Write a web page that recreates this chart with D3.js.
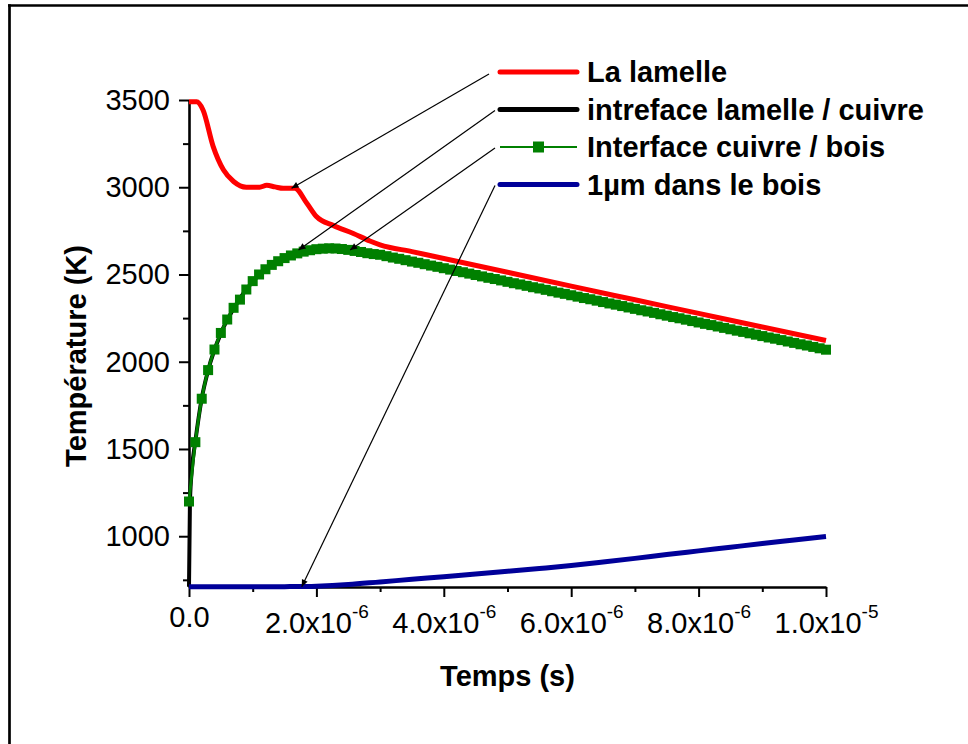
<!DOCTYPE html>
<html lang="fr">
<head>
<meta charset="utf-8">
<title>Température en fonction du temps</title>
<script src="https://cdn.jsdelivr.net/npm/d3@7"></script>
<style>
  body { margin: 0; background: #fff; }
  text { font-family: "Liberation Sans", Arial, sans-serif; }
</style>
</head>
<body>
<script>
// time in microseconds, temperature in K
var redT = [0, 0.12, 0.22, 0.38, 0.54, 0.70, 0.90, 1.11, 1.22, 1.35, 1.48, 1.66, 1.85, 2.0, 2.27, 2.58, 2.84, 3.0, 3.5, 4, 5, 6, 7, 8, 9, 10];
var redK = [3490, 3490, 3443, 3233, 3100, 3033, 3000, 3000, 3011, 3002, 2994, 2994, 2908, 2832, 2780, 2735, 2692, 2670, 2631, 2592, 2513, 2433, 2355, 2277, 2199, 2122];

var blackT = [0, 0.015, 0.05, 0.1, 0.2, 0.3, 0.5, 0.7, 1.0, 1.5, 2.0, 2.2, 2.5, 3, 4, 5, 6, 7, 8, 9, 10];
var blackK = [711, 1200, 1400, 1545, 1790, 1950, 2163, 2305, 2460, 2592, 2644, 2649, 2640, 2612, 2535, 2457, 2380, 2302, 2224, 2146, 2068];

// green curve is sampled every 0.1 us (one marker per sample)
var greenStep = 0.1;
var greenK = [1199, 1539, 1788, 1952, 2070, 2165, 2242, 2309, 2356, 2414,
              2462, 2500, 2530, 2555, 2576, 2594, 2609, 2621, 2631, 2639,
              2645, 2648, 2650, 2649, 2646, 2641, 2635, 2629, 2622, 2617,
              2613, 2605, 2597, 2590, 2582, 2574, 2567, 2559, 2551, 2544,
              2536, 2528, 2520, 2513, 2505, 2497, 2489, 2481, 2474, 2466,
              2458, 2450, 2443, 2435, 2427, 2420, 2412, 2404, 2396, 2389,
              2381, 2373, 2365, 2358, 2350, 2342, 2334, 2327, 2319, 2311,
              2303, 2295, 2288, 2280, 2272, 2264, 2256, 2249, 2241, 2233,
              2225, 2217, 2210, 2202, 2194, 2186, 2178, 2171, 2163, 2155,
              2147, 2139, 2132, 2124, 2116, 2108, 2100, 2093, 2085, 2077,
              2069];

var blueT = [0, 1, 1.5, 2, 2.5, 3, 3.5, 4, 4.5, 5, 5.5, 6, 6.5, 7, 7.5, 8, 8.5, 9, 9.5, 10];
var blueK = [710, 710, 711, 714, 723, 738, 753, 768, 783, 799, 815, 832, 852, 873, 895, 916, 937, 958, 978, 998];

var legendLabels = ["La lamelle", "intreface lamelle / cuivre", "Interface cuivre / bois", "1\u00b5m dans le bois"];
var seriesColors = ["#ff0000", "#000000", "#008000", "#000099"];

// arrow targets on the curves (us, K)
var arrowT = [1.61, 1.72, 2.53, 1.77];
var arrowK = [2994, 2641, 2641, 711];

var xTicks = [0, 2, 4, 6, 8, 10];
var xMinor = [1, 3, 5, 7, 9];
var xTickBase = ["0.0", "2.0x10", "4.0x10", "6.0x10", "8.0x10", "1.0x10"];
var xTickExp = ["", "-6", "-6", "-6", "-6", "-5"];
var yTicks = [1000, 1500, 2000, 2500, 3000, 3500];
var yMinor = [750, 1250, 1750, 2250, 2750, 3250];

var w = 968, h = 744;
var plotL = 189, plotR = 826, plotT = 100, plotB = 587;

var xScale = d3.scaleLinear().domain([0, 10]).range([plotL, plotR]);
var yScale = d3.scaleLinear().domain([709, 3500]).range([plotB, plotT]);

var svg = d3.select("body").append("svg")
  .attr("width", w)
  .attr("height", h);

svg.append("rect").attr("width", w).attr("height", h).attr("fill", "#fff");

// frame (only top and left edges are visible)
svg.append("line").attr("x1", 8).attr("x2", w).attr("y1", 5.5).attr("y2", 5.5)
  .attr("stroke", "#000").attr("stroke-width", 2.7);
svg.append("line").attr("x1", 9.5).attr("x2", 9.5).attr("y1", 4.2).attr("y2", h)
  .attr("stroke", "#000").attr("stroke-width", 2.7);

// axes
function styleAxis(g) {
  g.select(".domain").attr("stroke", "#000").attr("stroke-width", 2.6);
  g.selectAll(".tick line").attr("stroke", "#000").attr("stroke-width", 2);
  g.selectAll("text").attr("fill", "#000").attr("font-size", 29)
    .attr("font-family", "'Liberation Sans', Arial, sans-serif");
}

var gx = svg.append("g").attr("transform", "translate(0," + plotB + ")")
  .call(d3.axisBottom(xScale).tickValues(xTicks).tickSize(10).tickSizeOuter(0)
    .tickFormat(function(d, i) { return xTickBase[i]; }));
styleAxis(gx);
gx.selectAll(".tick text").each(function(d, i) {
  var t = d3.select(this);
  t.text(null).attr("dy", null).attr("y", xTickExp[i] ? 46 : 40);
  t.append("tspan").text(xTickBase[i]);
  if (xTickExp[i]) {
    t.append("tspan").attr("dy", -15).attr("font-size", 19).text(xTickExp[i]);
  }
});

var gxm = svg.append("g").attr("transform", "translate(0," + plotB + ")")
  .call(d3.axisBottom(xScale).tickValues(xMinor).tickSize(5).tickSizeOuter(0).tickFormat(""));
styleAxis(gxm);
gxm.select(".domain").remove();

var gy = svg.append("g").attr("transform", "translate(" + plotL + ",0)")
  .call(d3.axisLeft(yScale).tickValues(yTicks).tickSize(10).tickPadding(9).tickSizeOuter(0)
    .tickFormat(d3.format("d")));
styleAxis(gy);

var gym = svg.append("g").attr("transform", "translate(" + plotL + ",0)")
  .call(d3.axisLeft(yScale).tickValues(yMinor).tickSize(6).tickSizeOuter(0).tickFormat(""));
styleAxis(gym);
gym.select(".domain").remove();

// axis titles
svg.append("text")
  .attr("x", (plotL + plotR) / 2).attr("y", 686)
  .attr("text-anchor", "middle")
  .attr("font-size", 29).attr("font-weight", "bold")
  .text("Temps (s)");

svg.append("text")
  .attr("transform", "translate(86,356) rotate(-90)")
  .attr("text-anchor", "middle")
  .attr("font-size", 29).attr("font-weight", "bold")
  .text("Temp\u00e9rature (K)");

// curves
var line = d3.line()
  .x(function(d) { return xScale(d[0]); })
  .y(function(d) { return yScale(d[1]); })
  .curve(d3.curveMonotoneX);

var redData = d3.zip(redT, redK);
var blackData = d3.zip(blackT, blackK);
var greenData = greenK.map(function(v, i) { return [i * greenStep, v]; });
var blueData = d3.zip(blueT, blueK);

svg.append("path").datum(redData).attr("d", line)
  .attr("fill", "none").attr("stroke", seriesColors[0]).attr("stroke-width", 5)
  .attr("stroke-linejoin", "round");

svg.append("path").datum(blackData).attr("d", line)
  .attr("fill", "none").attr("stroke", seriesColors[1]).attr("stroke-width", 4)
  .attr("stroke-linejoin", "round");

svg.append("path").datum(greenData).attr("d", line)
  .attr("fill", "none").attr("stroke", seriesColors[2]).attr("stroke-width", 3);

svg.selectAll("rect.mark")
  .data(greenData)
  .enter()
  .append("rect")
  .attr("class", "mark")
  .attr("x", function(d) { return xScale(d[0]) - 5; })
  .attr("y", function(d) { return yScale(d[1]) - 5; })
  .attr("width", 10).attr("height", 10)
  .attr("fill", seriesColors[2]);

svg.append("path").datum(blueData).attr("d", line)
  .attr("fill", "none").attr("stroke", seriesColors[3]).attr("stroke-width", 5)
  .attr("stroke-linejoin", "round");

// legend
var legX1 = 500, legX2 = 577, legTextX = 587, legY0 = 72, legStep = 37.5;

var leg = svg.selectAll("g.leg")
  .data(legendLabels)
  .enter()
  .append("g")
  .attr("class", "leg")
  .attr("transform", function(d, i) { return "translate(0," + (legY0 + i * legStep) + ")"; });

leg.append("line")
  .attr("x1", legX1).attr("x2", legX2)
  .attr("stroke", function(d, i) { return seriesColors[i]; })
  .attr("stroke-width", function(d, i) { return i == 2 ? 2 : 5; })
  .attr("stroke-linecap", function(d, i) { return i == 2 ? "butt" : "round"; });

leg.filter(function(d, i) { return i == 2; })
  .append("rect")
  .attr("x", (legX1 + legX2) / 2 - 5.5).attr("y", -5.5)
  .attr("width", 11).attr("height", 11)
  .attr("fill", seriesColors[2]);

leg.append("text")
  .attr("x", legTextX).attr("y", 10)
  .attr("font-size", 29).attr("font-weight", "bold")
  .text(function(d) { return d; });

// arrows from legend entries to the curves
svg.append("defs").append("marker")
  .attr("id", "head")
  .attr("viewBox", "0 0 10 10")
  .attr("refX", 10).attr("refY", 5)
  .attr("markerUnits", "userSpaceOnUse")
  .attr("markerWidth", 11).attr("markerHeight", 7)
  .attr("orient", "auto")
  .append("path").attr("d", "M0,0.5L10,5L0,9.5z").attr("fill", "#000");

svg.selectAll("line.arrow")
  .data(arrowT)
  .enter()
  .append("line")
  .attr("class", "arrow")
  .attr("x1", function(d, i) { return i == 0 ? 489 : 495; })
  .attr("y1", function(d, i) { return legY0 + i * legStep + (i == 0 ? 2 : 1); })
  .attr("x2", function(d) { return xScale(d); })
  .attr("y2", function(d, i) { return yScale(arrowK[i]); })
  .attr("stroke", "#000").attr("stroke-width", 1.2)
  .attr("marker-end", "url(#head)");
</script>
</body>
</html>
